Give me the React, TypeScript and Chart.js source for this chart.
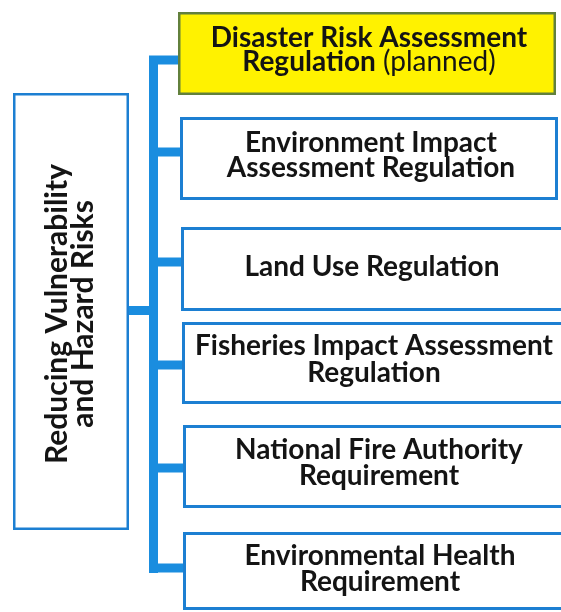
import React, { useEffect, useRef } from "react";
import { Chart, registerables } from "chart.js";

Chart.register(...registerables);

const W = 561;
const H = 612;

// ---- content ----
const rootLabel = ["Reducing Vulnerability", "and Hazard Risks"];
const boxTitles: string[][] = [
  ["Disaster Risk Assessment", "Regulation"],
  ["Environment Impact", "Assessment Regulation"],
  ["Land Use Regulation"],
  ["Fisheries Impact Assessment", "Regulation"],
  ["National Fire Authority", "Requirement"],
  ["Environmental Health", "Requirement"],
];
const boxNotes = ["(planned)", "", "", "", "", ""];
const boxPlanned = [true, false, false, false, false, false];

// ---- layout (diagram coordinates) ----
const boxLeft = [178, 180, 181, 182, 183, 183];
const boxRight = [556, 558, 566, 566, 566, 566];
const boxTop = [12, 117, 227, 322, 425, 532];
const boxBottom = [95, 200, 311, 404, 508, 610];
const textX = [369, 371, 372, 374, 379, 380];
const textBaselines: number[][] = [
  [47, 71],
  [152, 177],
  [276],
  [355, 382],
  [459, 485],
  [565, 591],
];
const branchY = [60, 152, 262, 365, 468, 568];
const rootBox = { left: 13, right: 129, top: 93, bottom: 530 };
const rootTextBaselineX = [67, 93];
const rootTextCenterY = 314;
const trunk = { left: 149, right: 158, top: 56, bottom: 573 };
const rootLinkY = 310.5;

const BLUE = "#1c7fd2";
const TRUNK = "#1a8ddf";
const YELLOW = "#fff200";
const OLIVE = "#62803c";
const TEXT = "#141414";
const FONT = "Lato";
const SIZE = 28;
const ROOT_SIZE = 30;

const diagramPlugin = {
  id: "diagram",
  beforeDraw(chart: any) {
    const { ctx } = chart;
    ctx.save();
    ctx.fillStyle = "#ffffff";
    ctx.fillRect(0, 0, chart.width, chart.height);
    ctx.restore();
  },
  afterDraw(chart: any) {
    const { ctx } = chart;
    const sx = (v: number) => chart.scales.x.getPixelForValue(v);
    const sy = (v: number) => chart.scales.y.getPixelForValue(v);
    const fillR = (x0: number, y0: number, x1: number, y1: number) =>
      ctx.fillRect(sx(x0), sy(y0), sx(x1) - sx(x0), sy(y1) - sy(y0));
    const strokeR = (x0: number, y0: number, x1: number, y1: number, lw: number) => {
      ctx.lineWidth = lw;
      ctx.strokeRect(sx(x0) + lw / 2, sy(y0) + lw / 2, sx(x1) - sx(x0) - lw, sy(y1) - sy(y0) - lw);
    };
    ctx.save();

    // connectors
    ctx.fillStyle = TRUNK;
    fillR(trunk.left, trunk.top, trunk.right, trunk.bottom);
    branchY.forEach((by, i) => {
      fillR(trunk.left, by - 4.5, boxLeft[i] + 2, by + 4.5);
    });
    fillR(rootBox.right - 1, rootLinkY - 4.5, trunk.left + 1, rootLinkY + 4.5);

    // root box
    ctx.strokeStyle = BLUE;
    strokeR(rootBox.left, rootBox.top, rootBox.right, rootBox.bottom, 2.5);

    // right boxes
    boxTitles.forEach((lines, i) => {
      if (boxPlanned[i]) {
        ctx.fillStyle = YELLOW;
        fillR(boxLeft[i], boxTop[i], boxRight[i], boxBottom[i]);
        ctx.strokeStyle = OLIVE;
        strokeR(boxLeft[i], boxTop[i], boxRight[i], boxBottom[i], 2.5);
      } else {
        ctx.fillStyle = "#ffffff";
        fillR(boxLeft[i], boxTop[i], boxRight[i], boxBottom[i]);
        ctx.strokeStyle = BLUE;
        strokeR(boxLeft[i], boxTop[i], boxRight[i], boxBottom[i], 3);
      }
      ctx.fillStyle = TEXT;
      ctx.textBaseline = "alphabetic";
      lines.forEach((line, j) => {
        const isLast = j === lines.length - 1;
        const note = isLast && boxNotes[i] ? " " + boxNotes[i] : "";
        ctx.font = `bold ${SIZE}px ${FONT}`;
        const wb = ctx.measureText(line).width;
        ctx.font = `${SIZE}px ${FONT}`;
        const wn = note ? ctx.measureText(note).width : 0;
        const start = sx(textX[i]) - (wb + wn) / 2;
        const by = sy(textBaselines[i][j]);
        ctx.textAlign = "left";
        ctx.font = `bold ${SIZE}px ${FONT}`;
        ctx.fillText(line, start, by);
        if (note) {
          ctx.font = `${SIZE}px ${FONT}`;
          ctx.fillText(note, start + wb, by);
        }
      });
    });

    // root label, rotated
    ctx.fillStyle = TEXT;
    ctx.font = `bold ${ROOT_SIZE}px ${FONT}`;
    ctx.textAlign = "center";
    ctx.textBaseline = "alphabetic";
    rootLabel.forEach((line, j) => {
      ctx.save();
      ctx.translate(sx(rootTextBaselineX[j]), sy(rootTextCenterY));
      ctx.rotate(-Math.PI / 2);
      ctx.fillText(line, 0, 0);
      ctx.restore();
    });

    ctx.restore();
  },
};

export default function App() {
  const ref = useRef<HTMLCanvasElement | null>(null);
  useEffect(() => {
    document.body.style.margin = "0";
    document.body.style.background = "#ffffff";
    if (!ref.current) return;
    const chart = new Chart(ref.current, {
      type: "scatter",
      data: { datasets: [] },
      options: {
        animation: false,
        responsive: false,
        devicePixelRatio: 1,
        layout: { padding: 0 },
        scales: {
          x: { type: "linear", min: 0, max: W, display: false },
          y: { type: "linear", min: 0, max: H, reverse: true, display: false },
        },
        plugins: { legend: { display: false }, tooltip: { enabled: false } },
      },
      plugins: [diagramPlugin],
    });
    return () => chart.destroy();
  }, []);
  return (
    <div style={{ position: "fixed", left: 0, top: 0, width: W, height: H }}>
      <canvas ref={ref} width={W} height={H} style={{ display: "block" }} />
    </div>
  );
}
